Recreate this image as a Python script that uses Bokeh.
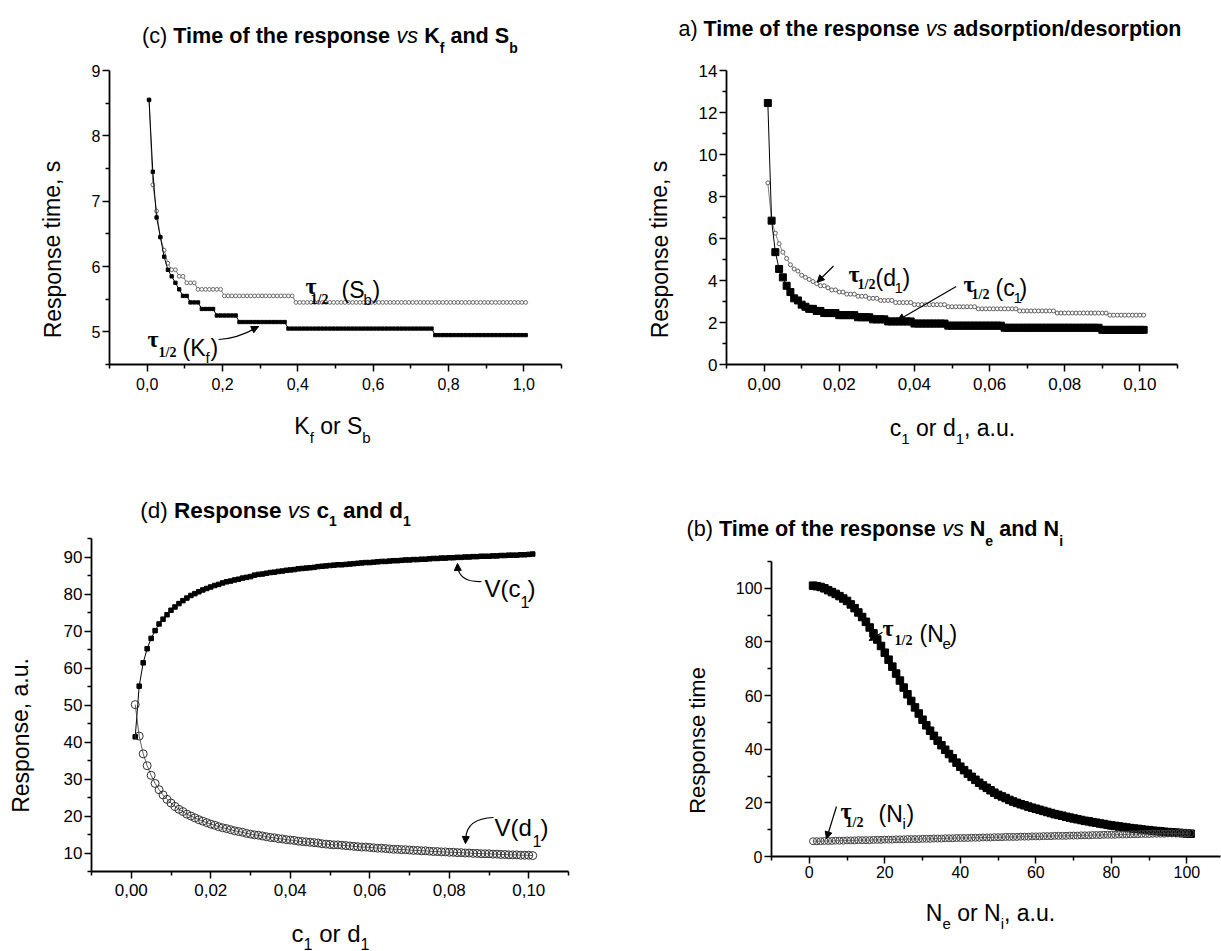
from bokeh.plotting import figure
from bokeh.layouts import column, row
from bokeh.models import (Label, Arrow, NormalHead, FixedTicker,
                          CustomJSTickFormatter, Range1d)
from bokeh.embed import file_html
from bokeh.resources import INLINE

SANS = "Liberation Sans"
SERIF = "Liberation Serif"


def runs(*pairs):
    """Expand (value, count) plateaus of a quantised response time."""
    seq = []
    for v, n in pairs:
        seq.extend([v] * n)
    return seq


# ---------------- (c) response time vs K_f and S_b ----------------
kfsb_x = [round(0.005 + 0.01 * k, 3) for k in range(101)]
tau_kf = [8.55, 7.45, 6.75, 6.45, 6.15, 5.95, 5.85, 5.75, 5.65, 5.55,
          5.55, 5.45, 5.45, 5.45] + runs((5.35, 4), (5.25, 6), (5.15, 13),
                                         (5.05, 39), (4.95, 25))
tau_sb = [8.55, 7.25, 6.85, 6.45, 6.25, 6.05, 5.95, 5.95, 5.85, 5.85,
          5.75, 5.75, 5.75] + runs((5.65, 7), (5.55, 19), (5.45, 62))

# ---------------- (a) response time vs c_1 and d_1 ----------------
cd_x = [round(0.001 * (k + 1), 3) for k in range(101)]
tau_c1 = [12.45, 6.85, 5.35, 4.55, 4.15, 3.75, 3.45, 3.15, 3.05, 2.85,
          2.75, 2.65, 2.65, 2.55, 2.55] + runs((2.45, 4), (2.35, 5), (2.25, 4),
                                               (2.15, 4), (2.05, 7), (1.95, 9),
                                               (1.85, 15), (1.75, 26), (1.65, 12))
tau_d1 = [8.65, 6.85, 6.25, 5.75, 5.35, 5.05, 4.75, 4.55, 4.45, 4.25,
          4.15, 4.05, 3.95, 3.85, 3.75, 3.75, 3.65, 3.55, 3.55, 3.45,
          3.45, 3.35, 3.35, 3.35, 3.25, 3.25, 3.25, 3.15, 3.15, 3.15,
          3.05, 3.05, 3.05, 3.05, 2.95] + runs((2.95, 4), (2.85, 9), (2.75, 8),
                                               (2.65, 11), (2.55, 10), (2.45, 14),
                                               (2.35, 10))

# ---------------- (d) response vs c_1 and d_1 ----------------
v_c1 = [41.4, 55.1, 61.4, 65.2, 68.0, 70.1, 71.9, 73.2, 74.4, 75.6,
        76.5, 77.4, 78.2, 78.9, 79.6, 80.1, 80.6, 81.1, 81.5, 81.9,
        82.3, 82.6, 83.0, 83.3, 83.5, 83.8, 84.0, 84.3, 84.5, 84.7,
        85.1, 85.3, 85.4, 85.6, 85.8, 85.9, 86.1, 86.2, 86.4, 86.5,
        86.6, 86.8, 86.9, 87.0, 87.1, 87.2, 87.4, 87.5, 87.6, 87.7,
        87.8, 87.9, 87.9, 88.0, 88.1, 88.2, 88.3, 88.4, 88.5, 88.5,
        88.6, 88.7, 88.8, 88.8, 88.9, 89.0, 89.0, 89.1, 89.2, 89.2,
        89.3, 89.3, 89.4, 89.4, 89.5, 89.6, 89.6, 89.7, 89.7, 89.8,
        89.8, 89.9, 89.9, 90.0, 90.0, 90.1, 90.1, 90.2, 90.2, 90.2,
        90.3, 90.3, 90.4, 90.4, 90.5, 90.5, 90.5, 90.6, 90.6, 90.7,
        90.8]
v_d1 = [50.1, 41.6, 36.8, 33.6, 31.0, 28.8, 27.1, 25.7, 24.5, 23.5,
        22.6, 21.8, 21.2, 20.5, 20.0, 19.5, 19.0, 18.6, 18.2, 17.8,
        17.5, 17.1, 16.8, 16.6, 16.3, 16.0, 15.8, 15.6, 15.3, 15.1,
        14.9, 14.8, 14.6, 14.4, 14.2, 14.1, 13.9, 13.8, 13.6, 13.5,
        13.4, 13.2, 13.1, 13.0, 12.9, 12.8, 12.7, 12.5, 12.4, 12.3,
        12.2, 12.2, 12.1, 12.0, 11.9, 11.8, 11.7, 11.6, 11.6, 11.5,
        11.4, 11.3, 11.3, 11.2, 11.1, 11.0, 11.0, 10.9, 10.9, 10.8,
        10.7, 10.7, 10.6, 10.6, 10.5, 10.4, 10.4, 10.3, 10.3, 10.2,
        10.2, 10.1, 10.1, 10.0, 10.0, 9.9, 9.9, 9.8, 9.8, 9.8,
        9.7, 9.7, 9.6, 9.6, 9.5, 9.5, 9.5, 9.4, 9.4, 9.4,
        9.3]

# ---------------- (b) response time vs N_e and N_i ----------------
n_x = list(range(1, 102))
tau_ne = [101.0, 100.8, 100.5, 100.0, 99.3, 98.6, 97.9, 97.1, 96.2, 95.3,
          94.0, 92.6, 91.0, 89.3, 87.5, 85.4, 83.2, 80.9, 78.5, 76.0,
          73.4, 70.8, 68.2, 65.6, 63.0, 60.5, 58.0, 55.6, 53.3, 51.0,
          48.9, 46.9, 45.0, 43.2, 41.5, 39.8, 38.2, 36.6, 35.0, 33.5,
          32.2, 30.9, 29.7, 28.6, 27.5, 26.5, 25.6, 24.7, 23.8, 23.0,
          22.4, 21.8, 21.1, 20.5, 20.0, 19.5, 19.1, 18.6, 18.2, 17.8,
          17.4, 17.0, 16.6, 16.2, 15.8, 15.5, 15.2, 14.8, 14.5, 14.2,
          13.9, 13.6, 13.3, 13.1, 12.8, 12.6, 12.3, 12.1, 11.8, 11.6,
          11.4, 11.2, 11.0, 10.8, 10.6, 10.4, 10.3, 10.1, 9.9, 9.8,
          9.6, 9.5, 9.4, 9.2, 9.1, 9.0, 8.9, 8.8, 8.7, 8.6,
          8.5]
tau_ni = runs((5.7, 3), (5.8, 3), (5.9, 3), (6.0, 3), (6.1, 4), (6.2, 3),
              (6.3, 3), (6.4, 3), (6.5, 4), (6.6, 3), (6.7, 3), (6.8, 3),
              (6.9, 4), (7.0, 3), (7.1, 3), (7.2, 3), (7.3, 4), (7.4, 3),
              (7.5, 3), (7.6, 3), (7.7, 4), (7.8, 3), (7.9, 3), (8.0, 3),
              (8.1, 4), (8.2, 3), (8.3, 3), (8.4, 3), (8.5, 4), (8.6, 3),
              (8.7, 4))

# tick positions
c_xticks, c_xminor = [0.0, 0.2, 0.4, 0.6, 0.8, 1.0], [-0.1, 0.1, 0.3, 0.5, 0.7, 0.9, 1.1]
c_yticks, c_yminor = [5, 6, 7, 8, 9], [4.5, 5.5, 6.5, 7.5, 8.5]
cd_xticks = [0.0, 0.02, 0.04, 0.06, 0.08, 0.10]
cd_xminor = [-0.01, 0.01, 0.03, 0.05, 0.07, 0.09, 0.11]
a_yticks, a_yminor = [0, 2, 4, 6, 8, 10, 12, 14], [1, 3, 5, 7, 9, 11, 13]
d_yticks = [10, 20, 30, 40, 50, 60, 70, 80, 90]
d_yminor = [5, 15, 25, 35, 45, 55, 65, 75, 85, 95]
b_xticks, b_xminor = [0, 20, 40, 60, 80, 100], [-10, 10, 30, 50, 70, 90]
b_yticks, b_yminor = [0, 20, 40, 60, 80, 100], [10, 30, 50, 70, 90, 110]

# Helvetica/Arial advance widths (1/1000 em) for flowing mixed-style text
W_REG = {' ': 278, '(': 333, ')': 333, ',': 278, '.': 278, '/': 278,
         'a': 556, 'b': 556, 'c': 500, 'd': 556, 'e': 556, 'f': 278,
         'h': 556, 'i': 222, 'm': 833, 'n': 556, 'o': 556, 'p': 556,
         'r': 333, 's': 500, 't': 278, 'u': 556, 'v': 500, '1': 556,
         'K': 667, 'N': 722, 'R': 722, 'S': 667, 'T': 611, 'V': 667}
W_BOLD = {' ': 278, '(': 333, ')': 333, '/': 278, 'a': 556, 'b': 611,
          'c': 556, 'd': 611, 'e': 556, 'f': 333, 'h': 611, 'i': 278,
          'm': 889, 'n': 611, 'o': 611, 'p': 611, 'r': 389, 's': 556,
          't': 333, 'K': 722, 'N': 722, 'R': 722, 'S': 667, 'T': 611, '1': 556}


def text_width(s, size, style):
    table = W_BOLD if "bold" in style else W_REG
    return sum(table.get(ch, 556) for ch in s) * size / 1000.0


def to_data(g, X, Y):
    L, R, T, B, (x0, x1), (y0, y1) = g
    return (x0 + (X - L) / (R - L) * (x1 - x0),
            y0 + (B - Y) / (B - T) * (y1 - y0))


def put(p, g, X, Y, text, size, style="normal", font=SANS, align="left",
        baseline="alphabetic", angle=0.0):
    x, y = to_data(g, X, Y)
    p.add_layout(Label(x=x, y=y, text=text, text_font=font,
                       text_font_size=f"{size}px", text_font_style=style,
                       text_align=align, text_baseline=baseline,
                       angle=angle, text_color="black"))


def flow(p, g, X, Y, pieces, center=False):
    total = sum(text_width(t, s, st) for t, s, st, dy in pieces)
    x = X - total / 2.0 if center else X
    for t, s, st, dy in pieces:
        lead = len(t) - len(t.lstrip(" "))
        put(p, g, x + text_width(" " * lead, s, st), Y + dy, t.strip(), s, st)
        x += text_width(t, s, st)


def title(p, g, X, Y, size, pieces, sub_dy=12):
    """Panel heading: (text, kind) pieces, kind in normal/bold/italic/sub."""
    out = []
    for t, kind in pieces:
        if kind == "sub":
            out.append((t, 14, "bold", sub_dy))
        else:
            out.append((t, size, kind, 0))
    flow(p, g, X, Y, out)


def arrow(p, g, X0, Y0, X1, Y1):
    x0, y0 = to_data(g, X0, Y0)
    x1, y1 = to_data(g, X1, Y1)
    p.add_layout(Arrow(x_start=x0, y_start=y0, x_end=x1, y_end=y1,
                       line_color="black", line_width=1.2,
                       end=NormalHead(size=7, fill_color="black",
                                      line_color="black")))


def curve(p, g, X0, Y0, CX, CY, X1, Y1):
    x0, y0 = to_data(g, X0, Y0)
    cx, cy = to_data(g, CX, CY)
    x1, y1 = to_data(g, X1, Y1)
    p.quadratic(x0=[x0], y0=[y0], x1=[x1], y1=[y1], cx=[cx], cy=[cy],
                line_color="black", line_width=1.2)


def tau(p, g, X, Y, sub_dx, sub_dy):
    put(p, g, X, Y, "\u03c4", 24, "bold", SERIF)
    put(p, g, X + sub_dx, Y + sub_dy, "1/2", 14, "bold", SERIF)


def strip(box):
    """Blank text area whose data coordinates equal page pixels."""
    PL, PT, PW, PH = box
    f = figure(frame_width=PW, frame_height=PH, min_border=0,
               min_border_left=0, min_border_right=0, min_border_top=0,
               min_border_bottom=0,
               x_range=Range1d(PL, PL + PW), y_range=Range1d(PT + PH, PT),
               x_axis_type=None, y_axis_type=None,
               output_backend="svg", toolbar_location=None,
               background_fill_color="white", border_fill_color="white")
    f.outline_line_color = None
    g = (PL, PL + PW, PT, PT + PH, (PL, PL + PW), (PT + PH, PT))
    return f, g


def panel(frame, box, xr, yr, xt, xm, yt, ym, xdig, ydig, tick_px, xstand):
    L, R, T, B = frame
    PL, PT, PW, PH = box
    p = figure(frame_width=R - L, frame_height=B - T,
               min_border_left=L - PL, min_border_right=PL + PW - R,
               min_border_top=T - PT, min_border_bottom=PT + PH - B,
               x_range=Range1d(*xr), y_range=Range1d(*yr),
               output_backend="svg", toolbar_location=None,
               background_fill_color="white", border_fill_color="white")
    p.outline_line_color = None
    p.xgrid.visible = False
    p.ygrid.visible = False
    p.xaxis.ticker = FixedTicker(ticks=xt, minor_ticks=xm)
    p.yaxis.ticker = FixedTicker(ticks=yt, minor_ticks=ym)
    p.xaxis.formatter = CustomJSTickFormatter(
        code=f"return tick.toFixed({xdig}).replace('.', ',');")
    p.yaxis.formatter = CustomJSTickFormatter(
        code=f"return tick.toFixed({ydig}).replace('.', ',');")
    for ax in (p.xaxis[0], p.yaxis[0]):
        ax.axis_line_color = "black"
        ax.axis_line_width = 1.8
        ax.major_tick_line_color = "black"
        ax.minor_tick_line_color = "black"
        ax.major_tick_line_width = 1.5
        ax.minor_tick_line_width = 1.5
        ax.major_tick_in = 0
        ax.major_tick_out = 7
        ax.minor_tick_in = 0
        ax.minor_tick_out = 4
        ax.major_label_text_font = SANS
        ax.major_label_text_font_size = f"{tick_px}px"
        ax.major_label_text_color = "black"
    p.xaxis.major_label_standoff = xstand
    p.yaxis.major_label_standoff = 2
    g = (L, R, T, B, xr, yr)
    return p, g


# ================= (c) =================
pc, gc = panel((109, 561, 70, 364), (70, 60, 530, 340), (-0.1, 1.1), (4.5, 9),
               c_xticks, c_xminor, c_yticks, c_yminor, 1, 0, 16, 6)
pc.line(kfsb_x, tau_sb, line_color="#7a7a7a", line_width=1)
pc.scatter(kfsb_x, tau_sb, marker="circle", size=3.8, line_color="#6a6a6a",
           fill_color="white", line_width=1)
pc.line(kfsb_x, tau_kf, line_color="black", line_width=1)
pc.scatter(kfsb_x, tau_kf, marker="square", size=3.3, color="black")

tau(pc, gc, 305, 285, 5, 14)
put(pc, gc, 341, 289, "(S", 23)
put(pc, gc, 363, 299, "b", 15)
put(pc, gc, 372, 289, ")", 23)
tau(pc, gc, 147, 338, 11, 14)
put(pc, gc, 182, 347, "(K", 23)
put(pc, gc, 205, 357, "f", 15)
put(pc, gc, 210, 347, ")", 23)
curve(pc, gc, 218, 339, 238, 338, 258, 326)
arrow(pc, gc, 251, 329.5, 258, 326)

t_c, g_tc = strip((0, 0, 600, 60))
title(t_c, g_tc, 141.6, 35, 21.6,
      [("(c) ", "normal"), ("Time of the response ", "bold"), ("vs ", "italic"),
       ("K", "bold"), ("f", "sub"), (" and ", "bold"), ("S", "bold"), ("b", "sub")])
y_c, g_yc = strip((0, 60, 70, 340))
put(y_c, g_yc, 52, 239, "Response time, s", 23, align="center",
    baseline="middle", angle=1.5708)
x_c, g_xc = strip((0, 400, 600, 80))
flow(x_c, g_xc, 332, 425, [("K", 23, "normal", 0), ("f", 15, "normal", 12),
                           (" or S", 23, "normal", 0), ("b", 15, "normal", 12)],
     center=True)

# ================= (a) =================
pa, ga = panel((726, 1177, 70, 364), (690, 60, 531, 340), (-0.01, 0.11), (0, 14),
               cd_xticks, cd_xminor, a_yticks, a_yminor, 2, 0, 17, 6)
pa.line(cd_x, tau_d1, line_color="#808080", line_width=1)
pa.scatter(cd_x, tau_d1, marker="circle", size=4, line_color="#5e5e5e",
           fill_color="white", line_width=1)
pa.line(cd_x, tau_c1, line_color="black", line_width=1)
pa.scatter(cd_x, tau_c1, marker="square", size=7, color="black")

tau(pa, ga, 848, 273, 9, 11)
put(pa, ga, 875, 277, "(d", 23)
put(pa, ga, 894, 287, "1", 15)
put(pa, ga, 902, 277, ")", 23)
arrow(pa, ga, 833, 265.5, 816.7, 281.7)
tau(pa, ga, 963, 283, 8, 11)
put(pa, ga, 995, 287, "(c", 23)
put(pa, ga, 1013, 297, "1", 15)
put(pa, ga, 1019, 287, ")", 23)
arrow(pa, ga, 955.7, 286, 897, 320)

t_a, g_ta = strip((600, 0, 621, 60))
title(t_a, g_ta, 678, 28, 21.5,
      [("a) ", "normal"), ("Time of the response ", "bold"), ("vs ", "italic"),
       ("adsorption/desorption", "bold")])
y_a, g_ya = strip((600, 60, 90, 340))
put(y_a, g_ya, 659, 239, "Response time, s", 23, align="center",
    baseline="middle", angle=1.5708)
x_a, g_xa = strip((600, 400, 621, 70))
flow(x_a, g_xa, 952, 427, [("c", 23, "normal", 0), ("1", 15, "normal", 11),
                           (" or d", 23, "normal", 0), ("1", 15, "normal", 11),
                           (", a.u.", 23, "normal", 0)], center=True)

# ================= (d) =================
pd_, gd = panel((91, 568, 538, 871), (50, 536, 550, 376), (-0.01, 0.11), (5, 95),
                cd_xticks, cd_xminor, d_yticks, d_yminor, 2, 0, 17, 5)
pd_.line(cd_x, v_c1, line_color="black", line_width=1)
pd_.scatter(cd_x, v_c1, marker="square", size=4.5, color="black")
pd_.line(cd_x, v_d1, line_color="#333333", line_width=0.8)
pd_.scatter(cd_x, v_d1, marker="circle", size=8, line_color="#333333",
            fill_alpha=0, line_width=1)

put(pd_, gd, 484, 588, "V(c", 24)
put(pd_, gd, 520, 601, "1", 16)
put(pd_, gd, 527, 588, ")", 24)
curve(pd_, gd, 481, 581, 459, 582, 457, 566)
arrow(pd_, gd, 457.3, 570, 457, 563)
put(pd_, gd, 494, 827, "V(d", 24)
put(pd_, gd, 532, 840, "1", 16)
put(pd_, gd, 540, 827, ")", 24)
curve(pd_, gd, 493, 817, 466, 818, 465.3, 838)
arrow(pd_, gd, 465.3, 836, 465, 843)

t_d, g_td = strip((0, 480, 600, 56))
title(t_d, g_td, 139.7, 510, 22.5,
      [("(d) ", "normal"), ("Response ", "bold"), ("vs ", "italic"),
       ("c", "bold"), ("1", "sub"), (" and ", "bold"), ("d", "bold"), ("1", "sub")],
      sub_dy=10)
y_d, g_yd = strip((0, 536, 50, 376))
put(y_d, g_yd, 20, 733, "Response, a.u.", 23, align="center",
    baseline="middle", angle=1.5708)
x_d, g_xd = strip((0, 912, 600, 39))
flow(x_d, g_xd, 330, 933, [("c", 24, "normal", 0), ("1", 16, "normal", 10),
                           (" or d", 24, "normal", 0), ("1", 16, "normal", 10)],
     center=True)

# ================= (b) =================
pb, gb = panel((771, 1220, 561, 856), (730, 550, 491, 342), (-10, 108.9), (0, 110),
               b_xticks, b_xminor, b_yticks, b_yminor, 0, 0, 16, 2)
pb.line(n_x, tau_ne, line_color="black", line_width=1)
pb.scatter(n_x, tau_ne, marker="square", size=7.5, color="black")
pb.line(n_x, tau_ni, line_color="#555555", line_width=0.8)
pb.scatter(n_x, tau_ni, marker="circle", size=7, line_color="#444444",
           fill_alpha=0, line_width=1)

tau(pb, gb, 882, 627, 12, 13)
put(pb, gb, 919, 633, "(N", 23)
put(pb, gb, 942, 643, "e", 15)
put(pb, gb, 949, 633, ")", 23)
arrow(pb, gb, 882, 631.7, 868.7, 640)
tau(pb, gb, 840, 810, 5, 12)
put(pb, gb, 878, 813, "(N", 23)
put(pb, gb, 902, 823, "i", 15)
put(pb, gb, 906, 813, ")", 23)
arrow(pb, gb, 836, 806, 826, 838.3)

t_b, g_tb = strip((600, 470, 621, 80))
title(t_b, g_tb, 686, 528, 21.6,
      [("(b) ", "normal"), ("Time of the response ", "bold"), ("vs ", "italic"),
       ("N", "bold"), ("e", "sub"), (" and ", "bold"), ("N", "bold"), ("i", "sub")])
y_b, g_yb = strip((600, 550, 130, 342))
put(y_b, g_yb, 697, 729, "Response time", 22, align="center",
    baseline="middle", angle=1.5708)
x_b, g_xb = strip((600, 892, 621, 59))
flow(x_b, g_xb, 990, 912, [("N", 23, "normal", 0), ("e", 15, "normal", 11),
                           (" or N", 23, "normal", 0), ("i", 15, "normal", 11),
                           (", a.u.", 23, "normal", 0)], center=True)

left = column(t_c, row(y_c, pc), x_c, t_d, row(y_d, pd_), x_d)
right = column(t_a, row(y_a, pa), x_a, t_b, row(y_b, pb), x_b)
layout = row(left, right)
open("out.html", "w").write(file_html(layout, INLINE))
